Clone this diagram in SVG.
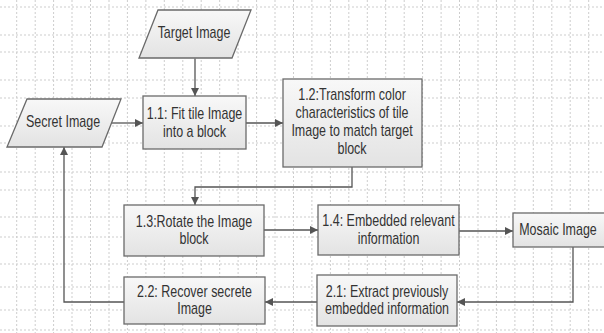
<svg xmlns="http://www.w3.org/2000/svg" width="604" height="333" viewBox="0 0 604 333">
<defs>
<linearGradient id="fillg" x1="0" y1="0" x2="0" y2="1">
<stop offset="0" stop-color="#f8f8f8"/>
<stop offset="1" stop-color="#e3e3e3"/>
</linearGradient>
<marker id="arr" viewBox="0 0 10 10" refX="10" refY="5" markerWidth="8" markerHeight="8" markerUnits="userSpaceOnUse" orient="auto">
<path d="M0,0 L10,5 L0,10 z" fill="#555"/>
</marker>
</defs>
<style>
.grid line{stroke:#cdcdcd;stroke-width:1;stroke-dasharray:2,2}
.shape{fill:url(#fillg);stroke:#6a6a6a;stroke-width:1.3}
.t{font-family:"Liberation Sans",Arial,sans-serif;font-size:16px;fill:#333;text-anchor:middle}
.conn path{fill:none;stroke:#555;stroke-width:1.3;marker-end:url(#arr)}
</style>
<rect width="604" height="333" fill="#fff"/>
<g class="grid">
<line x1="16.7" y1="0" x2="16.7" y2="333"/><line x1="35.2" y1="0" x2="35.2" y2="333"/><line x1="53.6" y1="0" x2="53.6" y2="333"/><line x1="72" y1="0" x2="72" y2="333"/><line x1="90.5" y1="0" x2="90.5" y2="333"/><line x1="109" y1="0" x2="109" y2="333"/><line x1="127.4" y1="0" x2="127.4" y2="333"/><line x1="145.9" y1="0" x2="145.9" y2="333"/><line x1="164.3" y1="0" x2="164.3" y2="333"/><line x1="182.8" y1="0" x2="182.8" y2="333"/><line x1="201.2" y1="0" x2="201.2" y2="333"/><line x1="219.7" y1="0" x2="219.7" y2="333"/><line x1="238.1" y1="0" x2="238.1" y2="333"/><line x1="256.6" y1="0" x2="256.6" y2="333"/><line x1="275" y1="0" x2="275" y2="333"/><line x1="293.5" y1="0" x2="293.5" y2="333"/><line x1="311.9" y1="0" x2="311.9" y2="333"/><line x1="330.4" y1="0" x2="330.4" y2="333"/><line x1="348.8" y1="0" x2="348.8" y2="333"/><line x1="367.3" y1="0" x2="367.3" y2="333"/><line x1="385.7" y1="0" x2="385.7" y2="333"/><line x1="404.2" y1="0" x2="404.2" y2="333"/><line x1="422.6" y1="0" x2="422.6" y2="333"/><line x1="441.1" y1="0" x2="441.1" y2="333"/><line x1="459.5" y1="0" x2="459.5" y2="333"/><line x1="478" y1="0" x2="478" y2="333"/><line x1="496.4" y1="0" x2="496.4" y2="333"/><line x1="514.9" y1="0" x2="514.9" y2="333"/><line x1="533.3" y1="0" x2="533.3" y2="333"/><line x1="551.8" y1="0" x2="551.8" y2="333"/><line x1="570.2" y1="0" x2="570.2" y2="333"/><line x1="588.7" y1="0" x2="588.7" y2="333"/>
<line x1="0" y1="7" x2="604" y2="7"/><line x1="0" y1="35" x2="604" y2="35"/><line x1="0" y1="52" x2="604" y2="52"/><line x1="0" y1="80" x2="604" y2="80"/><line x1="0" y1="98" x2="604" y2="98"/><line x1="0" y1="126" x2="604" y2="126"/><line x1="0" y1="143" x2="604" y2="143"/><line x1="0" y1="172" x2="604" y2="172"/><line x1="0" y1="190" x2="604" y2="190"/><line x1="0" y1="217" x2="604" y2="217"/><line x1="0" y1="237" x2="604" y2="237"/><line x1="0" y1="264" x2="604" y2="264"/><line x1="0" y1="287" x2="604" y2="287"/><line x1="0" y1="310" x2="604" y2="310"/><line x1="0" y1="330" x2="604" y2="330"/>
</g>
<g class="conn" id="connectors">
<path d="M195,58.5 L195,96"/>
<path d="M111.5,123 L143,123"/>
<path d="M246,123 L283,123"/>
<path d="M352,167 L352,187 L195,187 L195,205"/>
<path d="M264,230 L318,230"/>
<path d="M459,231 L513,231"/>
<path d="M573,247 L573,302 L457,302"/>
<path d="M317,302 L265,302"/>
<path d="M124,302 L64,302 L64,147"/>
</g>
<g id="target">
<polygon class="shape" points="158,10 251,10 232,58 139,58"/>
<text class="t" transform="matrix(0.78,0,0,1,194,38)">Target Image</text>
</g>
<g id="secret">
<polygon class="shape" points="27,99 121,99 102,147 7,147"/>
<text class="t" transform="matrix(0.78,0,0,1,63,127)">Secret Image</text>
</g>
<g id="n11">
<rect class="shape" x="143" y="96" width="103" height="53"/>
<text class="t" transform="matrix(0.78,0,0,1,194.5,119)">1.1: Fit tile Image</text>
<text class="t" transform="matrix(0.78,0,0,1,194.5,137)">into a block</text>
</g>
<g id="n12">
<rect class="shape" x="283" y="79" width="139" height="88"/>
<text class="t" transform="matrix(0.78,0,0,1,352,100)">1.2:Transform color</text>
<text class="t" transform="matrix(0.78,0,0,1,352,118)">characteristics of tile</text>
<text class="t" transform="matrix(0.78,0,0,1,352,136)">Image to match target</text>
<text class="t" transform="matrix(0.78,0,0,1,352,154)">block</text>
</g>
<g id="n13">
<rect class="shape" x="124" y="205" width="140" height="51"/>
<text class="t" transform="matrix(0.78,0,0,1,194,227)">1.3:Rotate the Image</text>
<text class="t" transform="matrix(0.78,0,0,1,194,244)">block</text>
</g>
<g id="n14">
<rect class="shape" x="318" y="205" width="141" height="50"/>
<text class="t" transform="matrix(0.78,0,0,1,388.5,226)">1.4: Embedded relevant</text>
<text class="t" transform="matrix(0.78,0,0,1,388.5,244)">information</text>
</g>
<g id="mosaic">
<rect class="shape" x="513" y="213" width="94" height="34"/>
<text class="t" transform="matrix(0.78,0,0,1,558,235)">Mosaic Image</text>
</g>
<g id="n21">
<rect class="shape" x="317" y="275" width="140" height="51"/>
<text class="t" transform="matrix(0.78,0,0,1,387,297)">2.1: Extract previously</text>
<text class="t" transform="matrix(0.78,0,0,1,387,314)">embedded information</text>
</g>
<g id="n22">
<rect class="shape" x="124" y="277" width="141" height="47"/>
<text class="t" transform="matrix(0.78,0,0,1,194.5,297)">2.2: Recover secrete</text>
<text class="t" transform="matrix(0.78,0,0,1,194.5,314)">Image</text>
</g>
</svg>
